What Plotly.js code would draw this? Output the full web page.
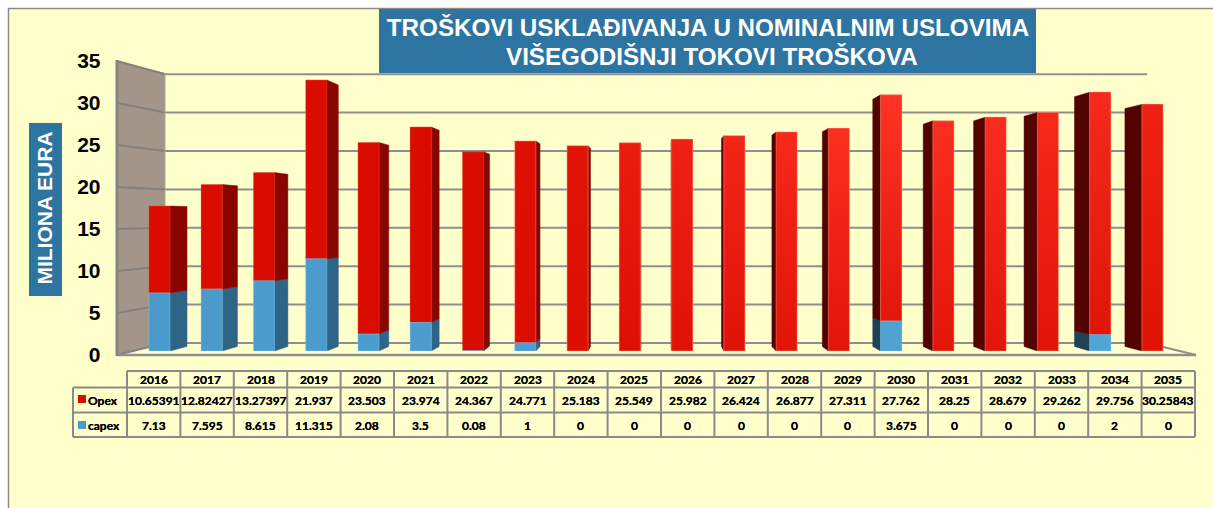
<!DOCTYPE html>
<html><head><meta charset="utf-8">
<script src="https://cdn.plot.ly/plotly-3.0.1.min.js"></script>
<style>html,body{margin:0;padding:0;background:#fff;overflow:hidden}</style>
</head><body><div id="chart" style="width:1213px;height:508px"></div>
<script>
const years = [2016,2017,2018,2019,2020,2021,2022,2023,2024,2025,2026,2027,2028,2029,2030,2031,2032,2033,2034,2035];
const opex = [10.65391,12.82427,13.27397,21.937,23.503,23.974,24.367,24.771,25.183,25.549,25.982,26.424,26.877,27.311,27.762,28.25,28.679,29.262,29.756,30.25843];
const capex = [7.13,7.595,8.615,11.315,2.08,3.5,0.08,1,0,0,0,0,0,0,3.675,0,0,0,2,0];
const yTicks = [0,5,10,15,20,25,30,35];
const titleLines = ["TROŠKOVI USKLAĐIVANJA U NOMINALNIM USLOVIMA","VIŠEGODIŠNJI TOKOVI TROŠKOVA"];
const yTitle = "MILIONA EURA";

// styling: brightness of each bar's top edge
const topShade = [0,0,0,0,0,0,0,.1,.2,.4,.55,.65,.75,.9,1,.9,.85,.75,.75,.55];

const W=1213,H=508;
const px=x=>x/W, py=y=>1-y/H;
// bar plane scale
const barY0=351, barPx=8.15, xPx0=159.5, xPx=52.26, barW=21/xPx;
const xRange=[2016-xPx0/xPx, 2016+(W-xPx0)/xPx];
const vpX=2016+(656-xPx0)/xPx, vpY=(barY0-221)/barPx, k=0.035;
const backX=x=>x+k*(vpX-x), backY=y=>y+k*(vpY-y);

function mix(a,b,t){const p=s=>[1,3,5].map(i=>parseInt(s.substr(i,2),16));const A=p(a),B=p(b);
  return 'rgb('+A.map((v,i)=>Math.round(v+(B[i]-v)*t)).join(',')+')';}

const traces=[];
traces.push({type:'bar',name:'capex',x:years,y:capex,width:barW,marker:{color:'#4A9ACB'},yaxis:'y',showlegend:false,hoverinfo:'x+y'});
traces.push({type:'bar',name:'Opex',x:years,y:opex,width:barW,marker:{color:'#DA0C00'},yaxis:'y',showlegend:false,hoverinfo:'x+y'});

years.forEach((yr,i)=>{
  const isRight = yr < vpX;
  const edge = yr + (isRight?1:-1)*barW/2;
  const bx = backX(edge);
  const total = capex[i]+opex[i];
  const segs = [];
  if(capex[i]>0) segs.push([0,capex[i],isRight?'#2E6486':'#1E4258']);
  segs.push([capex[i],total,isRight?'#8A0500':'#520300']);
  segs.forEach(s=>{
    traces.push({type:'scatter',mode:'lines',x:[edge,bx,bx,edge,edge],
      y:[s[0],backY(s[0]),backY(s[1]),s[1],s[0]],fill:'toself',fillcolor:s[2],
      line:{width:0.5,color:s[2]},showlegend:false,hoverinfo:'skip',cliponaxis:false});
  });
  const l=yr-barW/2,r=yr+barW/2, t=topShade[i];
  const halo=t>0?'rgba(255,130,110,0.7)':'rgba(230,70,50,0.6)';
  traces.push({type:'scatter',mode:'lines',x:[l,r,r,l,l],y:[capex[i],capex[i],total,total,capex[i]],
    fill:'toself',line:{width:0.8,color:halo},hoverinfo:'skip',showlegend:false,cliponaxis:false,
    fillgradient:{type:'vertical',colorscale:[[0,mix('#DA0C00','#E21609',t)],[1,mix('#DA0C00','#FF3324',t)]]}});
  if(capex[i]>0){
    traces.push({type:'scatter',mode:'lines',x:[l,r,r,l,l],y:[0,0,capex[i],capex[i],0],
      fill:'toself',fillcolor:mix('#4A9ACB','#50A6D6',i/19),line:{width:0.8,color:'rgba(120,190,230,.7)'},
      hoverinfo:'skip',showlegend:false,cliponaxis:false});
  }
});
// carries the tick-label axis
traces.push({type:'scatter',mode:'markers',x:[years[0]],y:[0],xaxis:'x',yaxis:'y2',marker:{opacity:0},showlegend:false,hoverinfo:'skip'});

const wallYf=v=>355-v*8.4, wallYb=v=>343-v*7.68;
const GL='#8E8E8E';
const pLine=(x0,y0,x1,y1,c,w,layer)=>({type:'line',xref:'paper',yref:'paper',x0:px(x0),y0:py(y0),x1:px(x1),y1:py(y1),line:{color:c,width:w},layer:layer||'below'});
const pRect=(x0,y0,x1,y1,f)=>({type:'rect',xref:'paper',yref:'paper',x0:px(x0),y0:py(y0),x1:px(x1),y1:py(y1),fillcolor:f,line:{width:0},layer:'below'});
const poly=(pts,f)=>({type:'path',xref:'paper',yref:'paper',path:'M'+pts.map(p=>px(p[0])+','+py(p[1])).join('L')+'Z',fillcolor:f,line:{width:0},layer:'below'});

const shapes=[];
// wall, floor and gridlines
shapes.push(poly([[117,61],[165,73],[165,343],[117,355]],'#A39587'));
yTicks.forEach(v=>{
  if(v>0) shapes.push(pLine(165,wallYb(v),1147,wallYb(v),GL,2));
  shapes.push(pLine(117,wallYf(v),165,wallYb(v),'#83807E',2));
});
shapes.push(pLine(165,343,1147,343,GL,2));
shapes.push(pLine(117,355,1196,355,GL,2.5));
shapes.push(pLine(1147,343,1196,355,GL,2));
shapes.push(pLine(117,60,117,356,'#858585',3));
shapes.push(pLine(165,73,165,343,'#A8A8A0',1));

// title and axis-title panels
shapes.push(pRect(379,9,1036,73,'#2E74A0'));
shapes.push(pRect(29,123,62,296,'#2E74A0'));

// data table
const colL=127,colW=53.4,rows=[371,387.5,412.5,437];
const TL='#8A8A8A';
shapes.push(pLine(colL,rows[0],colL+20*colW,rows[0],TL,2));
shapes.push(pLine(73,rows[1],colL+20*colW,rows[1],TL,2));
shapes.push(pLine(73,rows[2],colL+20*colW,rows[2],TL,2));
shapes.push(pLine(73,rows[3],colL+20*colW,rows[3],TL,2));
shapes.push(pLine(73,rows[1],73,rows[3],TL,2));
for(let c=0;c<=20;c++) shapes.push(pLine(colL+c*colW,rows[0],colL+c*colW,rows[3],TL,2));
shapes.push(pRect(78,395,86,403,'#DA0C00'));
shapes.push(pRect(78,421,86,429,'#4A9ACB'));

const annotations=[];
const tf={family:'Lato, Carlito, sans-serif',size:12,color:'#000',shadow:'0 0 0.5px #000'};
const cell=(x,y,t,anchor)=>({xref:'paper',yref:'paper',x:px(x),y:py(y),text:'<b>'+t+'</b>',showarrow:false,font:tf,xanchor:anchor||'center',yanchor:'middle',borderpad:0,borderwidth:0});
years.forEach((yr,i)=>{
  const cx=colL+(i+.5)*colW;
  annotations.push(cell(cx,379.5,String(yr)));
  annotations.push(cell(cx,400,String(opex[i])));
  annotations.push(cell(cx,425,String(capex[i])));
});
annotations.push(cell(88,400,'Opex','left'));
annotations.push(cell(88,425,'capex','left'));
const titleFont={family:'Liberation Sans, Arial, sans-serif',size:24.2,color:'#fff',weight:700};
annotations.push({xref:'paper',yref:'paper',x:px(712),y:py(56),text:titleLines[1],showarrow:false,font:titleFont,xanchor:'center',yanchor:'middle'});

// wall gradient
const cv=document.createElement('canvas');cv.width=982;cv.height=270;
const g=cv.getContext('2d');
const gr=g.createLinearGradient(420,270,982,0);
gr.addColorStop(0,'#FFEEDC');gr.addColorStop(.45,'#FEF1DE');gr.addColorStop(1,'#FFFFEC');
g.fillStyle=gr;g.fillRect(0,0,982,270);

const layout={
  width:W,height:H,margin:{l:0,r:0,t:0,b:0},paper_bgcolor:'#FFFFFF',plot_bgcolor:'rgba(0,0,0,0)',
  barmode:'stack',showlegend:false,hovermode:false,
  title:{text:titleLines[0],x:708/W,xanchor:'center',y:py(28),yanchor:'middle',font:titleFont},
  xaxis:{range:xRange,visible:false,domain:[0,1],fixedrange:true},
  yaxis:{range:[0,35],domain:[py(barY0),py(barY0-35*barPx)],visible:false,fixedrange:true},
  yaxis2:{range:[0,35],domain:[py(355),py(61)],anchor:'free',position:px(100.5),side:'left',
    tickvals:yTicks,ticktext:yTicks.map(String),ticks:'',showgrid:false,zeroline:false,showline:false,
    tickfont:{family:'Liberation Sans, Arial, sans-serif',size:21,color:'#000',weight:700},fixedrange:true,
    title:{text:yTitle+'\u00A0',standoff:17,font:{family:'Liberation Sans, Arial, sans-serif',size:21,color:'#fff',weight:700}}},
  images:[{source:cv.toDataURL('image/png'),xref:'paper',yref:'paper',x:px(165),y:py(73),sizex:982/W,sizey:270/H,
    sizing:'stretch',layer:'below',xanchor:'left',yanchor:'top'}],
  shapes:[{type:'rect',xref:'paper',yref:'paper',x0:px(8.5),y0:py(8.5),x1:px(1220),y1:py(520),fillcolor:'#FFFFCC',line:{color:'#8A8A8A',width:1.5},layer:'below'}].concat(shapes),
  annotations
};
Plotly.newPlot('chart',traces,layout,{displayModeBar:false,responsive:false});
</script></body></html>
